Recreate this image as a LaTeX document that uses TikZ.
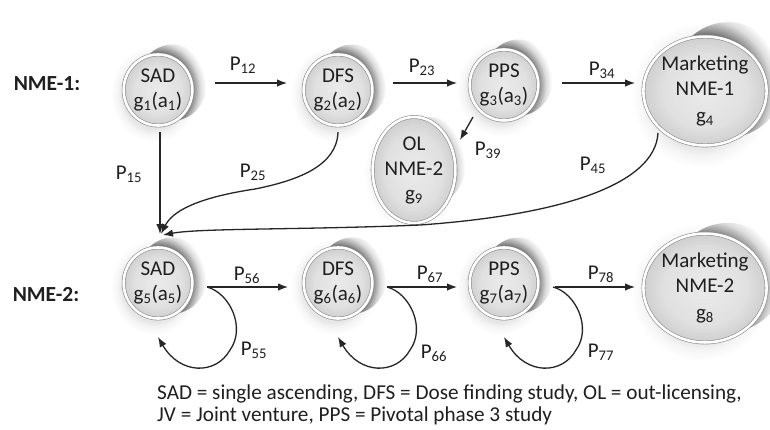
\documentclass[tikz,border=0pt]{standalone}
\usepackage{fontspec}
\setmainfont{Carlito}
\usetikzlibrary{arrows.meta,shapes.geometric,backgrounds,calc}

% disc fill, soft halo and the curled shadow behind every stage
% (a shaded path's outline sits at 25bp of the shading)
\pgfdeclareradialshading{discfill}{\pgfpointorigin}{color(0bp)=(black!8); color(17bp)=(black!12); color(25bp)=(black!19); color(50bp)=(black!19)}
\pgfdeclareradialshading{haloshade}{\pgfpointorigin}{color(0bp)=(black!11); color(18bp)=(black!10); color(21bp)=(black!4); color(25bp)=(white); color(50bp)=(white)}
\pgfdeclareradialshading{swirlshade}{\pgfpointorigin}{color(0bp)=(black!70); color(15.5bp)=(black!65); color(17.5bp)=(black!42); color(20.5bp)=(black!14); color(23.5bp)=(white); color(50bp)=(white)}

\newcommand\stagetext[2][4pt]{\raisebox{#1}{\begin{tabular}{@{}c@{}}#2\end{tabular}}}

% halo and curl for the stage named #1 with half axes #2, #3
\newcommand\stageglow[3]{%
  \shade[shading=haloshade] ($(#1.center)+(-4,4)$) ellipse [x radius=#2*1.32, y radius=#3*1.3];
  \begin{scope}
    \clip ($(#1.center)+(#2*0.44,-#3*0.2)$) ellipse [x radius=#2*1.05, y radius=#3*1.03];
    \shade[shading=swirlshade] (#1.center) ellipse [x radius=#2*1.55, y radius=#3*1.55];
  \end{scope}}

% loop back into the stage named #1 from below
\newcommand\selfloop[1]{%
  \draw[arr] ($(#1.center)+(49,4)$) .. controls ($(#1.center)+(72,10)$) and ($(#1.center)+(88,45)$) ..
    ($(#1.center)+(72,67)$) .. controls ($(#1.center)+(58,92)$) and ($(#1.center)+(22,92)$) ..
    ($(#1.center)+(0,54)$);}

\begin{document}
\begin{tikzpicture}[x=1pt,y=-1pt,
  every node/.style={font=\fontsize{21}{25}\selectfont, text=black!88},
  stage/.style={ellipse, draw=black!45, line width=0.6pt, double=white, double distance=2.6pt,
    shade, shading=discfill, inner sep=0pt, align=center},
  small/.style={stage, minimum width=63pt, minimum height=71pt},
  big/.style={stage, minimum width=102pt, minimum height=106pt},
  arr/.style={-{Latex[length=10pt,width=7.5pt]}, line width=1.3pt, draw=black!85},
  plab/.style={inner sep=1pt},
  row/.style={font=\fontsize{21.5}{25}\selectfont\bfseries}]

\useasboundingbox (0,0) rectangle (770,429);

% stages of the first compound
\node[small] (s1) at (158,90) {\stagetext{SAD\\g\textsubscript{1}(a\textsubscript{1})}};
\node[small] (d1) at (338,90) {\stagetext{DFS\\g\textsubscript{2}(a\textsubscript{2})}};
\node[small] (p1) at (504,85) {\stagetext{PPS\\g\textsubscript{3}(a\textsubscript{3})}};
\node[big, minimum height=108pt] (m1) at (705,91) {\stagetext[4pt]{Marketing\\NME-1\\[2pt]g\textsubscript{4}}};
\node[small, minimum width=66pt, minimum height=82pt] (o9) at (414,170) {\stagetext[2pt]{OL\\NME-2\\g\textsubscript{9}}};

% stages of the second compound
\node[small] (s5) at (158,283) {\stagetext{SAD\\g\textsubscript{5}(a\textsubscript{5})}};
\node[small] (d6) at (338,283) {\stagetext{DFS\\g\textsubscript{6}(a\textsubscript{6})}};
\node[small] (p7) at (504,283) {\stagetext{PPS\\g\textsubscript{7}(a\textsubscript{7})}};
\node[big, minimum height=103pt] (m2) at (705,288) {\stagetext[6pt]{Marketing\\NME-2\\[2pt]g\textsubscript{8}}};

\begin{scope}[on background layer]
  \fill[white] (0,0) rectangle (770,429);
  \stageglow{s1}{33}{37}
  \stageglow{d1}{33}{37}
  \stageglow{p1}{33}{37}
  \stageglow{m1}{53}{56}
  \stageglow{o9}{35}{43}
  \stageglow{s5}{33}{37}
  \stageglow{d6}{33}{37}
  \stageglow{p7}{33}{37}
  \stageglow{m2}{53}{53}
\end{scope}

% row headings
\node[row] (r1) at (47,84) {NME-1:};
\node[row] (r2) at (46,295) {NME-2:};

% transitions along the first row
\draw[arr] ($(s1.center)+(57,-7)$) -- ($(d1.center)+(-51,-7)$);
\draw[arr] ($(d1.center)+(55,-7)$) -- ($(p1.center)+(-47,-2)$);
\draw[arr] ($(p1.center)+(58,-2)$) -- ($(m1.center)+(-70,-8)$);
\draw[arr] ($(p1.center)+(-31,32)$) -- ($(o9.center)+(46,-30)$);

% transitions into the second compound
\draw[arr] ($(s1.center)+(2,42)$) -- ($(s5.center)+(2,-49)$);
\draw[arr] ($(d1.center)+(0,42)$) .. controls ($(d1.center)+(-1,75)$) and (300,180) .. (255,189)
  .. controls (195,198) and (172,212) .. ($(s5.center)+(3,-49)$);
\draw[arr] ($(m1.center)+(-47,42)$) .. controls (655,185) and (560,215) .. (420,225)
  .. controls (300,230) and (200,228) .. ($(s5.center)+(5,-48)$);

% transitions along the second row
\draw[arr] ($(s5.center)+(49,4)$) -- ($(d6.center)+(-50,4)$);
\draw[arr] ($(d6.center)+(49,4)$) -- ($(p7.center)+(-47,4)$);
\draw[arr] ($(p7.center)+(51,4)$) -- ($(m2.center)+(-70,-1)$);
\selfloop{s5}
\selfloop{d6}
\selfloop{p7}

% transition probabilities
\node[plab] (l12) at (243,65) {P\textsubscript{12}};
\node[plab] (l23) at (422,67) {P\textsubscript{23}};
\node[plab] (l34) at (602,70) {P\textsubscript{34}};
\node[plab] (l39) at (488,150) {P\textsubscript{39}};
\node[plab] (l15) at (129,174) {P\textsubscript{15}};
\node[plab] (l25) at (253,172) {P\textsubscript{25}};
\node[plab] (l45) at (593,165) {P\textsubscript{45}};
\node[plab] (l56) at (247,275) {P\textsubscript{56}};
\node[plab] (l67) at (430,274) {P\textsubscript{67}};
\node[plab] (l78) at (601,274) {P\textsubscript{78}};
\node[plab] (l55) at (254,350) {P\textsubscript{55}};
\node[plab] (l66) at (434,353) {P\textsubscript{66}};
\node[plab] (l77) at (601,352) {P\textsubscript{77}};

% abbreviations
\node[anchor=west, align=left, inner sep=0pt, font=\fontsize{21.2}{22.5}\selectfont] (key) at (157,405)
  {SAD = single ascending, DFS = Dose finding study, OL = out-licensing,\\JV = Joint venture, PPS = Pivotal phase 3 study};
\end{tikzpicture}
\end{document}
